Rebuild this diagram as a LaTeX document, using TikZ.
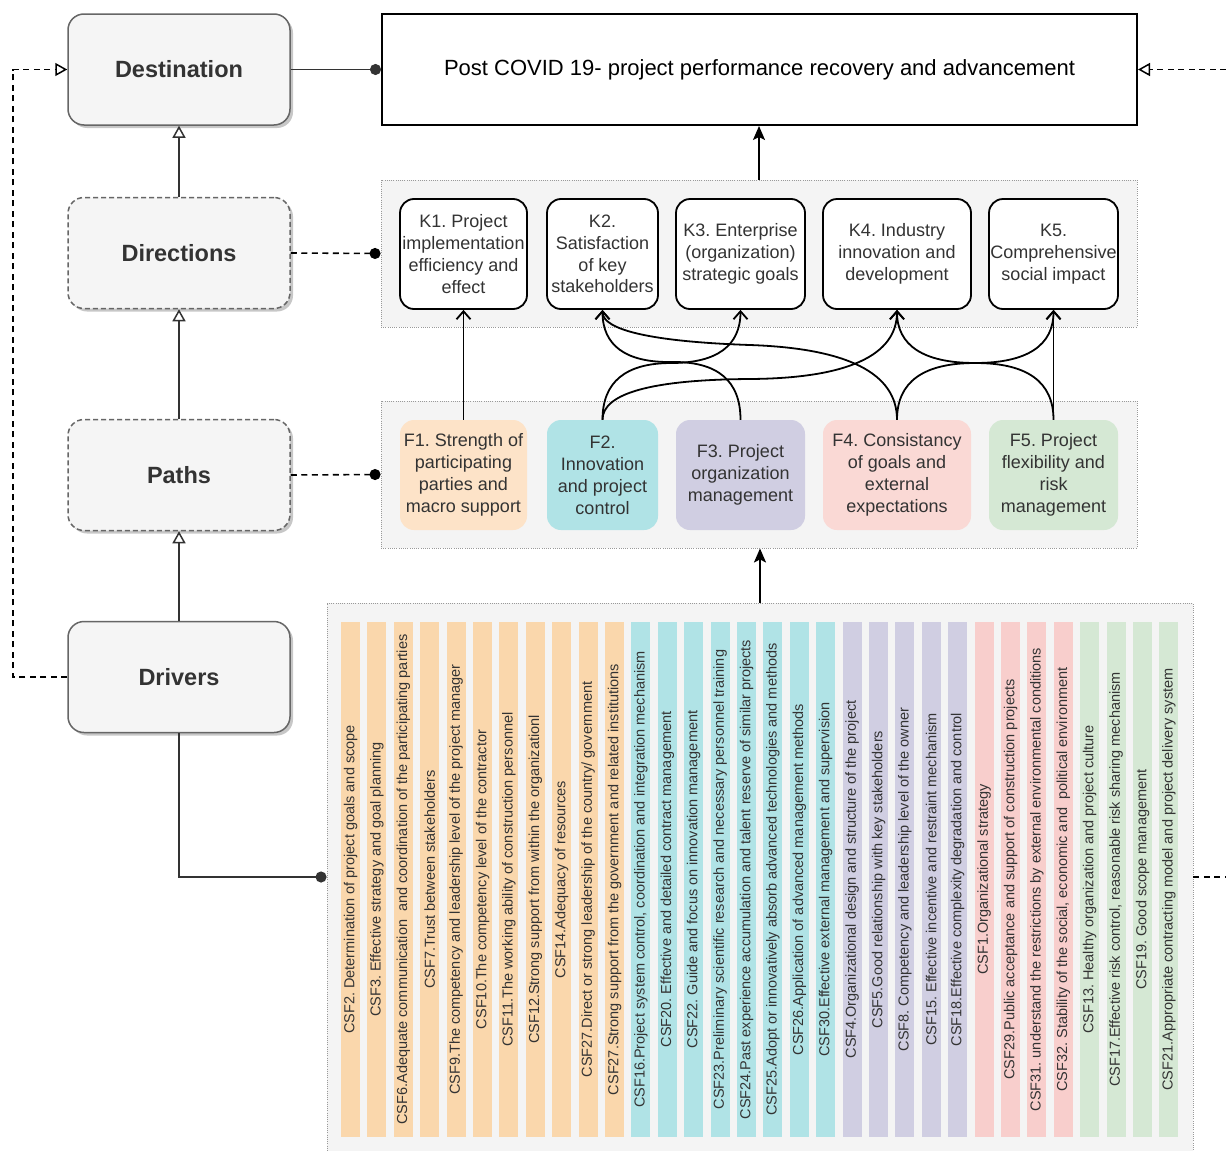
\documentclass[tikz,border=0pt]{standalone}
\usepackage{fontspec}
\setmainfont{Liberation Sans}
\usetikzlibrary{arrows.meta,shadows,calc}
\frenchspacing
\definecolor{lbfill}{HTML}{F5F5F5}
\definecolor{lbstroke}{HTML}{666666}
\definecolor{txt}{HTML}{333333}
\definecolor{linec}{HTML}{333333}
\definecolor{contfill}{HTML}{F4F4F4}
\definecolor{contdraw}{HTML}{999999}
\definecolor{orbar}{HTML}{FAD7AC}
\definecolor{orbox}{HTML}{FDE3C8}
\definecolor{cyc}{HTML}{B0E3E6}
\definecolor{puc}{HTML}{D0CEE2}
\definecolor{rebar}{HTML}{F8CECC}
\definecolor{rebox}{HTML}{FAD9D5}
\definecolor{grc}{HTML}{D5E8D4}

\newcommand{\fkcurve}[4]{%
  \coordinate (p0) at (#1.north);
  \coordinate (p3) at (#2.south);
  \coordinate (p1) at (p0 |- 0,#3);
  \coordinate (p2) at (p3 |- 0,#4);
  \coordinate (pm) at ($(p1)!0.5!(p2)$);
  \draw[fk] (p0) .. controls ($(p0)!2/3!(p1)$) and ($(pm)!2/3!(p1)$) .. (pm)
     .. controls ($(pm)!2/3!(p2)$) and ($(p3)!2/3!(p2)$) .. (p3);
}
\newcommand{\csfbar}[3]{\node[csfbarst, fill=#2] (csf#1) at ({350.5+(#1-1)*26.4},879.5) {#3};}

\begin{document}
\begin{tikzpicture}[x=1pt,y=-1pt,
  leftbox/.style={rounded corners=16pt, minimum width=222pt, minimum height=111pt,
     fill=lbfill, draw=lbstroke, line width=1.5pt, text=txt, inner sep=0pt,
     font=\fontsize{23.5}{28}\selectfont\bfseries,
     drop shadow={shadow xshift=3pt, shadow yshift=-3pt, fill=black, opacity=0.22}},
  dashedbox/.style={leftbox, dash pattern=on 5pt off 3pt},
  contbox/.style={fill=contfill, draw=contdraw, line width=0.9pt, dash pattern=on 1pt off 1.2pt},
  kbox/.style={rounded corners=14pt, draw=black, line width=1.8pt, fill=white, align=center,
     text=txt, font=\fontsize{18}{21.8}\selectfont, minimum height=110pt, inner sep=0pt},
  fbox/.style={rounded corners=14pt, align=center, text=txt,
     font=\fontsize{18}{22}\selectfont, minimum height=110pt, inner sep=0pt},
  csfbarst/.style={rotate=90, minimum width=515pt, minimum height=19pt, inner sep=0pt,
     text=txt, font=\fontsize{14.5}{17}\selectfont},
  solidconn/.style={draw=linec, line width=1.8pt},
  dashconn/.style={draw=black, line width=1.6pt, dash pattern=on 6pt off 4.5pt},
  opentri/.style={-{Triangle[length=12pt,width=13pt,fill=white,line width=1.5pt]}},
  dotend/.style={-{Circle[length=11pt]}},
  fk/.style={draw=black, line width=1.8pt, -{Straight Barb[length=8pt,width=14pt]}},
  bigarrow/.style={draw=black, line width=1.8pt, -{Stealth[length=14pt,width=12pt,inset=3pt]}}
]
\useasboundingbox (0,0) rectangle (1226,1151);
\fill[white] (0,0) rectangle (1226,1151);

% containers
\node[contbox, minimum width=756pt, minimum height=147pt] (kc) at (759,253.5) {};
\node[contbox, minimum width=756pt, minimum height=147pt] (fc) at (759,474.5) {};
\node[contbox, minimum width=866pt, minimum height=548pt] (csfc) at (760,877) {};

% left boxes
\node[leftbox] (dest) at (179,69.5) {Destination};
\node[dashedbox] (dir) at (179,253) {Directions};
\node[dashedbox] (paths) at (179,475) {Paths};
\node[leftbox] (drv) at (179,677) {Drivers};

% top box
\node[draw=black, line width=2pt, fill=white, minimum width=755pt, minimum height=111pt,
  font=\fontsize{22}{26}\selectfont, inner sep=0pt] (post) at (759.5,69.5)
  {Post COVID 19- project performance recovery and advancement};

% K boxes
\node[kbox, minimum width=127pt] (k1) at (463.5,254) {K1. Project\\implementation\\efficiency and\\effect};
\node[kbox, minimum width=111pt] (k2) at (602.5,254) {K2.\\Satisfaction\\of key\\stakeholders};
\node[kbox, minimum width=129pt] (k3) at (740.5,254) {K3. Enterprise\\(organization)\\strategic goals};
\node[kbox, minimum width=148pt] (k4) at (897,254) {K4. Industry\\innovation and\\development};
\node[kbox, minimum width=129pt] (k5) at (1053.5,254) {K5.\\Comprehensive\\social impact};

% F boxes
\node[fbox, fill=orbox, minimum width=127pt] (f1) at (463.5,475) {F1. Strength of\\participating\\parties and\\macro support};
\node[fbox, fill=cyc, minimum width=111pt] (f2) at (602.5,475) {F2.\\Innovation\\and project\\control};
\node[fbox, fill=puc, minimum width=129pt] (f3) at (740.5,475) {F3. Project\\organization\\management};
\node[fbox, fill=rebox, minimum width=148pt] (f4) at (897,475) {F4. Consistancy\\of goals and\\external\\expectations};
\node[fbox, fill=grc, minimum width=129pt] (f5) at (1053.5,475) {F5. Project\\flexibility and\\risk\\management};

% CSF bars
\csfbar{1}{orbar}{CSF2. Determination of project goals and scope}
\csfbar{2}{orbar}{CSF3. Effective strategy and goal planning}
\csfbar{3}{orbar}{CSF6.Adequate communication\ \ and coordination of the participating parties}
\csfbar{4}{orbar}{CSF7.Trust between stakeholders}
\csfbar{5}{orbar}{CSF9.The competency and leadership level of the project manager}
\csfbar{6}{orbar}{CSF10.The competency level of the contractor}
\csfbar{7}{orbar}{CSF11.The working ability of construction personnel}
\csfbar{8}{orbar}{CSF12.Strong support from within the organizationl}
\csfbar{9}{orbar}{CSF14.Adequacy of resources}
\csfbar{10}{orbar}{CSF27.Direct or strong leadership of the country/ government}
\csfbar{11}{orbar}{CSF27.Strong support from the government and related institutions}
\csfbar{12}{cyc}{CSF16.Project system control, coordination and integration mechanism}
\csfbar{13}{cyc}{CSF20. Effective and detailed contract management}
\csfbar{14}{cyc}{CSF22. Guide and focus on innovation management}
\csfbar{15}{cyc}{CSF23.Preliminary scientific research and necessary personnel training}
\csfbar{16}{cyc}{CSF24.Past experience accumulation and talent reserve of similar projects}
\csfbar{17}{cyc}{CSF25.Adopt or innovatively absorb advanced technologies and methods}
\csfbar{18}{cyc}{CSF26.Application of advanced management methods}
\csfbar{19}{cyc}{CSF30.Effective external management and supervision}
\csfbar{20}{puc}{CSF4.Organizational design and structure of the project}
\csfbar{21}{puc}{CSF5.Good relationship with key stakeholders}
\csfbar{22}{puc}{CSF8. Competency and leadership level of the owner}
\csfbar{23}{puc}{CSF15. Effective incentive and restraint mechanism}
\csfbar{24}{puc}{CSF18.Effective complexity degradation and control}
\csfbar{25}{rebar}{CSF1.Organizational strategy}
\csfbar{26}{rebar}{CSF29.Public acceptance and support of construction projects}
\csfbar{27}{rebar}{CSF31. understand the restrictions by external environmental conditions}
\csfbar{28}{rebar}{CSF32. Stability of the social, economic and\ \ political environment}
\csfbar{29}{grc}{CSF13. Healthy organization and project culture}
\csfbar{30}{grc}{CSF17.Effective risk control, reasonable risk sharing mechanism}
\csfbar{31}{grc}{CSF19. Good scope management}
\csfbar{32}{grc}{CSF21.Appropriate contracting model and project delivery system}

% left-side connectors
\draw[solidconn, opentri] (dir.north) -- (dest.south);
\draw[solidconn, opentri] (paths.north) -- (dir.south);
\draw[solidconn, opentri] (drv.north) -- (paths.south);
\draw[solidconn, dotend] (dest.east) -- (post.west);
\draw[dashconn, dotend] (dir.east) -- (kc.west);
\draw[dashconn, dotend] (paths.east) -- (fc.west);
\draw[solidconn, dotend] (drv.south) |- (csfc.west);
\coordinate (lx) at (13,0);
\draw[dashconn, opentri] (drv.west) -- (drv.west -| lx) -- (dest.west -| lx) -- (dest.west);
\coordinate (rt) at (1226,69.5);
\draw[dashconn, opentri] (rt) -- (post.east);
\coordinate (rb) at (1226,0);
\draw[dashconn] (csfc.east) -- (rb |- csfc.east);

% main vertical arrows
\draw[bigarrow] (kc.north) -- (kc.north |- post.south);
\draw[bigarrow] (csfc.north) -- (csfc.north |- fc.south);

% F -> K connectors
\draw[fk] (f1.north) -- (k1.south);
\draw[fk] (f5.north) -- (k5.south);
\fkcurve{f4}{k2}{350}{340}
\fkcurve{f2}{k4}{380}{378}
\fkcurve{f2}{k3}{363}{363}
\fkcurve{f3}{k2}{361}{363}
\fkcurve{f4}{k5}{363}{363}
\fkcurve{f5}{k4}{363}{363}
\end{tikzpicture}
\end{document}
